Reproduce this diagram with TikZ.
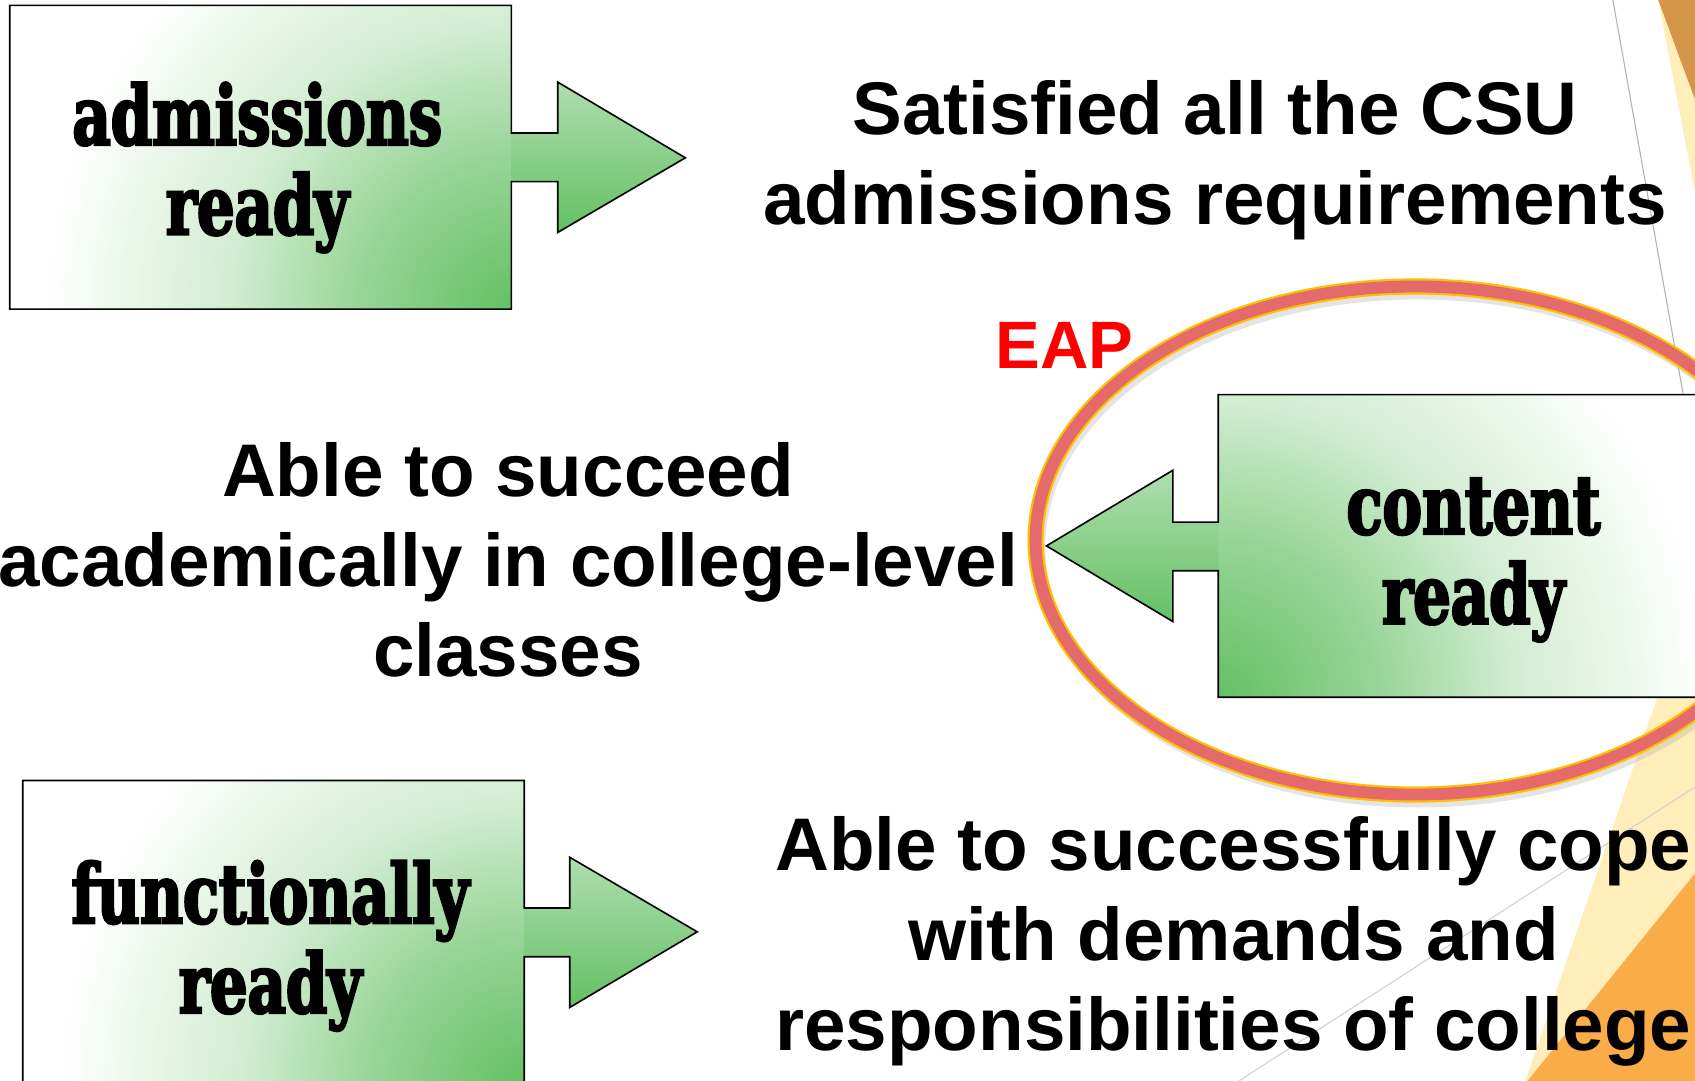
\documentclass[tikz,border=0pt]{standalone}
\usepackage{fontspec}
\setmainfont{Liberation Sans}
\newfontfamily\heavyfont{DejaVu Serif}[UprightFont={* Bold},FakeStretch=0.72,FakeBold=3]
\definecolor{gr}{RGB}{100,192,100}
\colorlet{grm}{gr!68!white}
\colorlet{grs}{gr!30!white}
\definecolor{grl}{RGB}{175,222,175}
\definecolor{ellred}{RGB}{229,106,108}
\definecolor{ellyel}{RGB}{255,192,0}
\definecolor{dorange}{RGB}{214,150,74}
\definecolor{lyellow}{RGB}{255,238,186}
\definecolor{orng}{RGB}{249,172,72}
\definecolor{eapred}{RGB}{255,0,0}
\pgfdeclareradialshading{cornerfade}{\pgfpointorigin}{color(0bp)=(gr); color(8bp)=(grm); color(15bp)=(grs); color(25bp)=(white); color(50bp)=(white)}
\tikzset{
  bigtext/.style={align=center, inner sep=0pt, font=\bfseries\fontsize{69}{83}\selectfont},
  heavy/.style={align=center, inner sep=0pt, font=\heavyfont\fontsize{76}{83}\selectfont},
  outline/.style={draw=black, line width=1.5pt, line join=miter},
  headshade/.style={top color=grl, bottom color=gr},
}
\begin{document}
\begin{tikzpicture}[x=1pt,y=-1pt]
\clip (0,0) rectangle (1568,1000);
\fill[white] (0,0) rectangle (1568,1000);
% background decorations
\fill[lyellow] (1534,0) -- (1568,0) -- (1568,178) -- cycle;
\fill[dorange] (1534,0) -- (1568,0) -- (1568,92) -- cycle;
\fill[lyellow] (1568,544) -- (1411,1000) -- (1568,1000) -- cycle;
\fill[orng] (1568,808) -- (1413,1000) -- (1568,1000) -- cycle;
\draw[black!30, line width=1pt] (1492,0) -- (1568,426);
\draw[black!18, line width=1pt] (1146,1000) -- (1568,728);

% box 1: admissions ready
\begin{scope}
  \clip (9,5) rectangle (473,286);
  \fill[white] (9,5) rectangle (473,286);
  \shade[shading=cornerfade] (473,286) circle [radius=430];
\end{scope}
\shade[headshade] (473,123) -- (516,123) -- (516,76) -- (634,146) -- (516,215) -- (516,168) -- (473,168) -- cycle;
\draw[outline] (9,5) -- (473,5) -- (473,123) -- (516,123) -- (516,76) -- (634,146) -- (516,215) -- (516,168) -- (473,168) -- (473,286) -- (9,286) -- cycle;
\node[heavy] (adm) at (238,155) {admissions\\ready};
\node[bigtext] (sat) at (1124,148) {Satisfied all the CSU\\admissions requirements};

% box 2: content ready
\begin{scope}
  \clip (1127,365) rectangle (1660,645);
  \fill[white] (1127,365) rectangle (1660,645);
  \shade[shading=cornerfade] (1127,645) circle [radius=450];
\end{scope}
\shade[headshade] (1127,483) -- (1085,483) -- (1085,435) -- (968,505) -- (1085,575) -- (1085,528) -- (1127,528) -- cycle;
\draw[outline] (1127,483) -- (1127,365) -- (1660,365) -- (1660,645) -- (1127,645) -- (1127,528) -- (1085,528) -- (1085,575) -- (968,505) -- (1085,435) -- (1085,483) -- cycle;
\node[heavy] (con) at (1363,518) {content\\ready};
\node[bigtext] (able) at (470,518) {Able to succeed\\academically in college-level\\classes};

% box 3: functionally ready
\begin{scope}
  \clip (21,722) rectangle (485,1050);
  \fill[white] (21,722) rectangle (485,1050);
  \shade[shading=cornerfade] (485,1005) circle [radius=430];
\end{scope}
\shade[headshade] (485,840) -- (527,840) -- (527,793) -- (645,862) -- (527,932) -- (527,885) -- (485,885) -- cycle;
\draw[outline] (21,722) -- (485,722) -- (485,840) -- (527,840) -- (527,793) -- (645,862) -- (527,932) -- (527,885) -- (485,885) -- (485,1050) -- (21,1050) -- cycle;
\node[heavy] (fun) at (250,875) {functionally\\ready};
\node[bigtext] (cope) at (1141,871) {Able to successfully cope\\with demands and\\responsibilities of college};

% EAP ellipse
\node[font=\bfseries\fontsize{62}{70}\selectfont, text=eapred, inner sep=0pt] (eap) at (985,320) {EAP};
\draw[black!30, line width=12pt, opacity=0.35] (1312,506) ellipse [x radius=351, y radius=235];
\draw[ellyel, line width=15pt] (1309,500) ellipse [x radius=351, y radius=235];
\draw[ellred, line width=11pt] (1309,500) ellipse [x radius=351, y radius=235];
\end{tikzpicture}
\end{document}
